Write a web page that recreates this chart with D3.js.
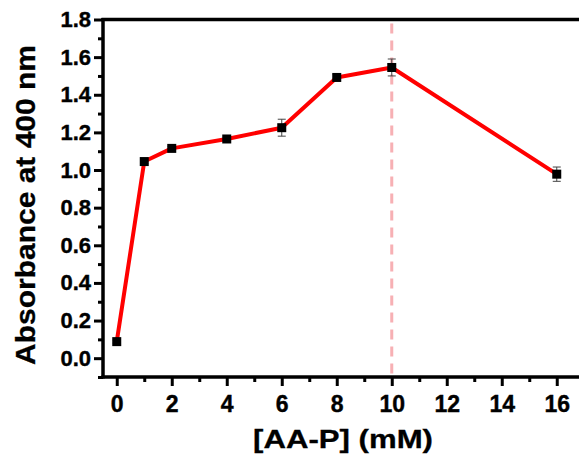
<!DOCTYPE html>
<html><head><meta charset="utf-8">
<script src="https://cdn.jsdelivr.net/npm/d3@7"></script>
<style>body{margin:0;background:#fff}svg{display:block}text{font-family:"Liberation Sans",Arial,sans-serif;font-weight:bold}</style>
</head><body>
<script>
const concentrations = [0, 1, 2, 4, 6, 8, 10, 16];
const absorbance = [0.088, 1.045, 1.115, 1.165, 1.225, 1.492, 1.545, 0.978];
const errors = [0.008, 0.01, 0.01, 0.01, 0.045, 0.016, 0.045, 0.038];
const xTicks = [0, 2, 4, 6, 8, 10, 12, 14, 16];
const yTicks = [0.0, 0.2, 0.4, 0.6, 0.8, 1.0, 1.2, 1.4, 1.6, 1.8];
const markerLine = 10;

const W = 579, H = 459;
const m = {left: 103, top: 19.5, bottom: 377};
const svg = d3.select("body").append("svg").attr("width", W).attr("height", H);
const x = d3.scaleLinear().domain([-0.5, 17]).range([m.left, m.left + 17.5 * 27.5]);
const y = d3.scaleLinear().domain([-0.1, 1.8]).range([m.bottom, m.top]);

// dashed reference line
svg.append("line").attr("x1", x(markerLine)).attr("x2", x(markerLine))
  .attr("y1", m.top + 4).attr("y2", m.bottom - 2)
  .attr("stroke", "#f7b0b4").attr("stroke-width", 3).attr("stroke-dasharray", "10,7");

// axes
const xAxis = svg.append("g").attr("transform", `translate(0,${m.bottom})`)
  .call(d3.axisBottom(x).tickValues(xTicks).tickFormat(d3.format("d")).tickSize(9));
const xMinor = svg.append("g").attr("transform", `translate(0,${m.bottom})`)
  .call(d3.axisBottom(x).tickValues(d3.range(1, 17, 2)).tickFormat("").tickSize(5));
const yAxis = svg.append("g").attr("transform", `translate(${m.left},0)`)
  .call(d3.axisLeft(y).tickValues(yTicks).tickFormat(d3.format(".1f")).tickSize(9).tickPadding(3));
const yMinor = svg.append("g").attr("transform", `translate(${m.left},0)`)
  .call(d3.axisLeft(y).tickValues(d3.range(-0.1, 1.8, 0.2)).tickFormat("").tickSize(5));
[xAxis, xMinor, yAxis, yMinor].forEach(g => {
  g.select(".domain").remove();
  g.selectAll(".tick line").attr("stroke", "#000").attr("stroke-width", 3);
  g.selectAll("text").attr("fill", "#000").attr("stroke", "#000").attr("stroke-width", 0.4).style("font-size", "22px");
});
xAxis.selectAll("text").attr("y", 35).attr("dy", 0).style("font-size", "23px");
// axis lines
svg.append("line").attr("x1", m.left).attr("x2", m.left).attr("y1", m.top - 1.5).attr("y2", m.bottom + 1.5)
  .attr("stroke", "#000").attr("stroke-width", 3.5);
svg.append("line").attr("x1", m.left - 1.5).attr("x2", W + 5).attr("y1", m.bottom).attr("y2", m.bottom)
  .attr("stroke", "#000").attr("stroke-width", 3.5);
svg.append("line").attr("x1", m.left - 1.5).attr("x2", W + 5).attr("y1", m.top).attr("y2", m.top)
  .attr("stroke", "#000").attr("stroke-width", 3.5);

const data = concentrations.map((c, i) => ({c, v: absorbance[i], e: errors[i]}));

// line
svg.append("path").datum(data)
  .attr("fill", "none").attr("stroke", "#ff0000").attr("stroke-width", 4).attr("stroke-linejoin", "round")
  .attr("d", d3.line().x(d => x(d.c)).y(d => y(d.v)));

// error bars
const eb = svg.append("g").attr("stroke", "#444").attr("stroke-width", 1);
data.forEach(d => {
  eb.append("line").attr("x1", x(d.c)).attr("x2", x(d.c)).attr("y1", y(d.v - d.e)).attr("y2", y(d.v + d.e));
  [d.v - d.e, d.v + d.e].forEach(v => eb.append("line").attr("x1", x(d.c) - 4).attr("x2", x(d.c) + 4).attr("y1", y(v)).attr("y2", y(v)));
});

// markers
svg.append("g").selectAll("rect").data(data).join("rect")
  .attr("x", d => x(d.c) - 4.5).attr("y", d => y(d.v) - 4.5).attr("width", 9).attr("height", 9).attr("fill", "#000");

// titles
svg.append("text").attr("x", 343).attr("y", 448).attr("text-anchor", "middle").style("font-size", "26px")
  .attr("stroke", "#000").attr("stroke-width", 0.3)
  .attr("textLength", 180).attr("lengthAdjust", "spacingAndGlyphs").text("[AA-P] (mM)");
svg.append("text").attr("transform", `translate(35,205) rotate(-90)`)
  .attr("text-anchor", "middle").style("font-size", "27px")
  .attr("stroke", "#000").attr("stroke-width", 0.3)
  .attr("textLength", 320).attr("lengthAdjust", "spacingAndGlyphs").text("Absorbance at 400 nm");
</script>
</body></html>
